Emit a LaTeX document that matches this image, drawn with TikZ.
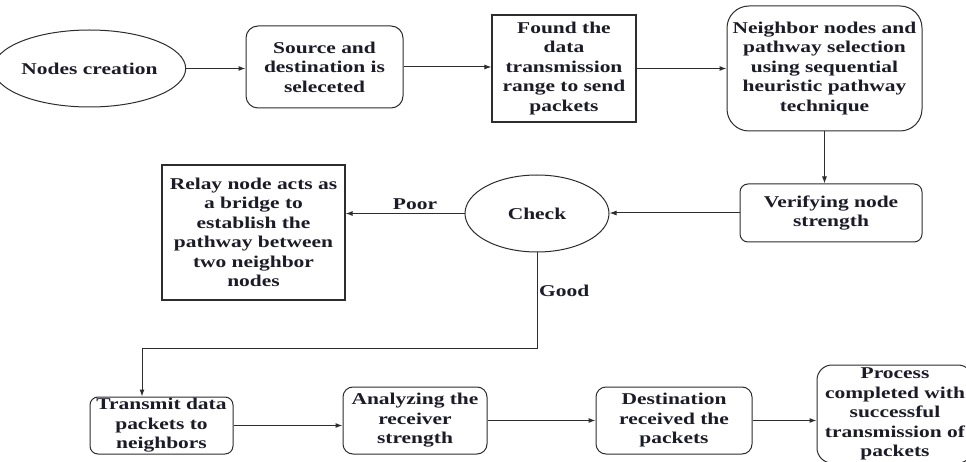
\documentclass[tikz,border=0pt]{standalone}
\usepackage{fontspec}
\setmainfont[FakeStretch=1.3]{Liberation Serif}
\usetikzlibrary{shapes.geometric,arrows.meta}
\definecolor{txt}{RGB}{28,28,40}
\definecolor{ln}{RGB}{45,45,45}
\begin{document}
\begin{tikzpicture}[x=1pt,y=-1pt,
  every node/.style={font=\bfseries\fontsize{16.5}{19.5}\selectfont, text=txt, align=center, inner sep=0pt},
  sz/.style 2 args={minimum width=#1pt, minimum height=#2pt},
  ell/.style={ellipse, draw=ln, line width=1pt},
  rbox/.style={rectangle, draw=ln, line width=1pt},
  sbox/.style={rectangle, draw=ln, line width=1.2pt},
  arr/.style={draw=ln, line width=1pt, -{Latex[length=7pt,width=5pt]}},
  lin/.style={draw=ln, line width=1pt}]
\useasboundingbox (0,0) rectangle (966,462);
\fill[white] (0,0) rectangle (966,462);

\node[ell, sz={155}{77}] (n1) at (89.5,68.5) {Nodes creation};
\node[rbox, rounded corners=12pt, sz={157}{82}] (n2) at (324.5,67) {Source and\\destination is\\seleceted};
\node[sbox, sz={144}{107}] (n3) at (564,68.5) {Found the\\data\\transmission\\range to send\\packets};
\node[rbox, rounded corners=22pt, sz={195}{125}] (n4) at (824.5,68.5) {Neighbor nodes and\\pathway selection\\using sequential\\heuristic pathway\\technique};
\node[rbox, rounded corners=8pt, sz={182}{58}] (n5) at (831,213) {Verifying node\\strength};
\node[ell, sz={144}{77}] (n6) at (537,213.5) {Check};
\node[sbox, sz={183}{135}] (n7) at (253.5,232.5) {Relay node acts as\\a bridge to\\establish the\\pathway between\\two neighbor\\nodes};
\node[rbox, rounded corners=8pt, sz={143}{57}] (n8) at (161.5,425.5) {Transmit data\\packets to\\neighbors};
\node[rbox, rounded corners=10pt, sz={144}{67}] (n9) at (415,420.5) {Analyzing the\\receiver\\strength};
\node[rbox, rounded corners=10pt, sz={156}{67}] (n10) at (674,420.5) {Destination\\received the\\packets};
\node[rbox, rounded corners=15pt, sz={156}{98}] (n11) at (895,414) {Process\\completed with\\successful\\transmission of\\packets};

\node (poor) at (415,204) {Poor};
\node[anchor=west] (good) at (539,291) {Good};

\draw[arr] (n1.east) -- (n1.east -| n2.west);
\draw[arr] (n2.east) -- (n2.east -| n3.west);
\draw[arr] (n3.east) -- (n3.east -| n4.west);
\draw[arr] (n4.south) -- (n4.south |- n5.north);
\draw[arr] (n5.west) -- (n5.west -| n6.east);
\draw[arr] (n6.west) -- (n6.west -| n7.east);
\coordinate (c1) at (142,348);
\draw[arr] (n6.south) |- (c1) -- (c1 |- n8.north);
\draw[arr] (n8.east) -- (n8.east -| n9.west);
\draw[arr] (n9.east) -- (n9.east -| n10.west);
\draw[arr] (n10.east) -- (n10.east -| n11.west);
\end{tikzpicture}
\end{document}
